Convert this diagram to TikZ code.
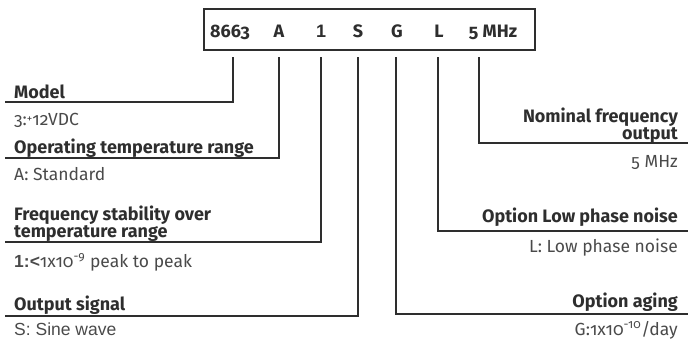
\documentclass[tikz,border=0pt]{standalone}
\usepackage{fontspec}
\setmainfont{Fira Sans}[Numbers=OldStyle]
\newfontfamily\arialf{Liberation Sans}
\definecolor{ink}{HTML}{2E2E2E}
\definecolor{body}{HTML}{4A4A4A}
\tikzset{
  head/.style={inner sep=0pt, text=ink, font=\fontsize{18}{18}\selectfont\bfseries},
  desc/.style={inner sep=0pt, text=body, font=\fontsize{17.5}{17.5}\selectfont},
  code/.style={inner sep=0pt, text=ink, font=\fontsize{18}{18}\selectfont\bfseries, anchor=base},
  lead/.style={draw=ink, line width=1.4pt},
  framebox/.style={draw=ink, line width=1.7pt}
}
\newcommand{\raisedplus}{\raisebox{3pt}{\fontsize{11}{11}\selectfont +}}
\begin{document}
\begin{tikzpicture}[x=1pt,y=-1pt]
\useasboundingbox (0,0) rectangle (695,340);
\draw[framebox] (204,9) rectangle (535,50);
% codes
\node[code] (c1) at (230,37) {8663};
\node[code] (c2) at (279,37) {A};
\node[code] (c3) at (321,37) {\arialf\bfseries 1};
\node[code] (c4) at (358,37) {S};
\node[code] (c5) at (397,37) {G};
\node[code] (c6) at (439,37) {L};
\node[code] (c7) at (493,37) {5 MHz};
% tick tops
\coordinate (t1) at (233,57);
\coordinate (t2) at (279,57);
\coordinate (t3) at (321,57);
\coordinate (t4) at (358,57);
\coordinate (t5) at (396,57);
\coordinate (t6) at (438,57);
\coordinate (t7) at (479,57);
% ends
\coordinate (e1) at (5,102);
\coordinate (e2) at (5,158);
\coordinate (e3) at (5,242);
\coordinate (e4) at (5,316);
\coordinate (e5) at (688,314);
\coordinate (e6) at (688,231);
\coordinate (e7) at (688,143);
\foreach \i in {1,...,7} {\draw[lead] (t\i) |- (e\i);}
% left labels
\node[head, anchor=base west] (h1) at (14,98) {Model};
\node[desc, anchor=base west] (d1) at (14,125) {3:\raisedplus12VDC};
\node[head, anchor=base west] (h2) at (14,153) {Operating temperature range};
\node[desc, anchor=base west] (d2) at (14,180) {A: Standard};
\node[head, anchor=base west] (h3a) at (14,220) {Frequency stability over};
\node[head, anchor=base west] (h3b) at (14,237) {temperature range};
\node[desc, anchor=base west] (d3) at (14,267) {{\arialf\bfseries 1:<}1x10\textsuperscript{-9} peak to peak};
\node[head, anchor=base west] (h4) at (14,310) {Output signal};
\node[desc, anchor=base west] (d4) at (14,335) {\arialf\fontsize{17.5}{17.5}\selectfont S: Sine wave};
% right labels
\node[head, anchor=base east] (h7a) at (678,122) {Nominal frequency};
\node[head, anchor=base east] (h7b) at (678,139) {output};
\node[desc, anchor=base east] (d7) at (678,167) {5 MHz};
\node[head, anchor=base east] (h6) at (678,222) {Option Low phase noise};
\node[desc, anchor=base east] (d6) at (678,252) {L: Low phase noise};
\node[head, anchor=base east] (h5) at (678,307) {Option aging};
\node[desc, anchor=base east] (d5) at (678,335) {G:1x10\textsuperscript{-10}/day};
\end{tikzpicture}
\end{document}
